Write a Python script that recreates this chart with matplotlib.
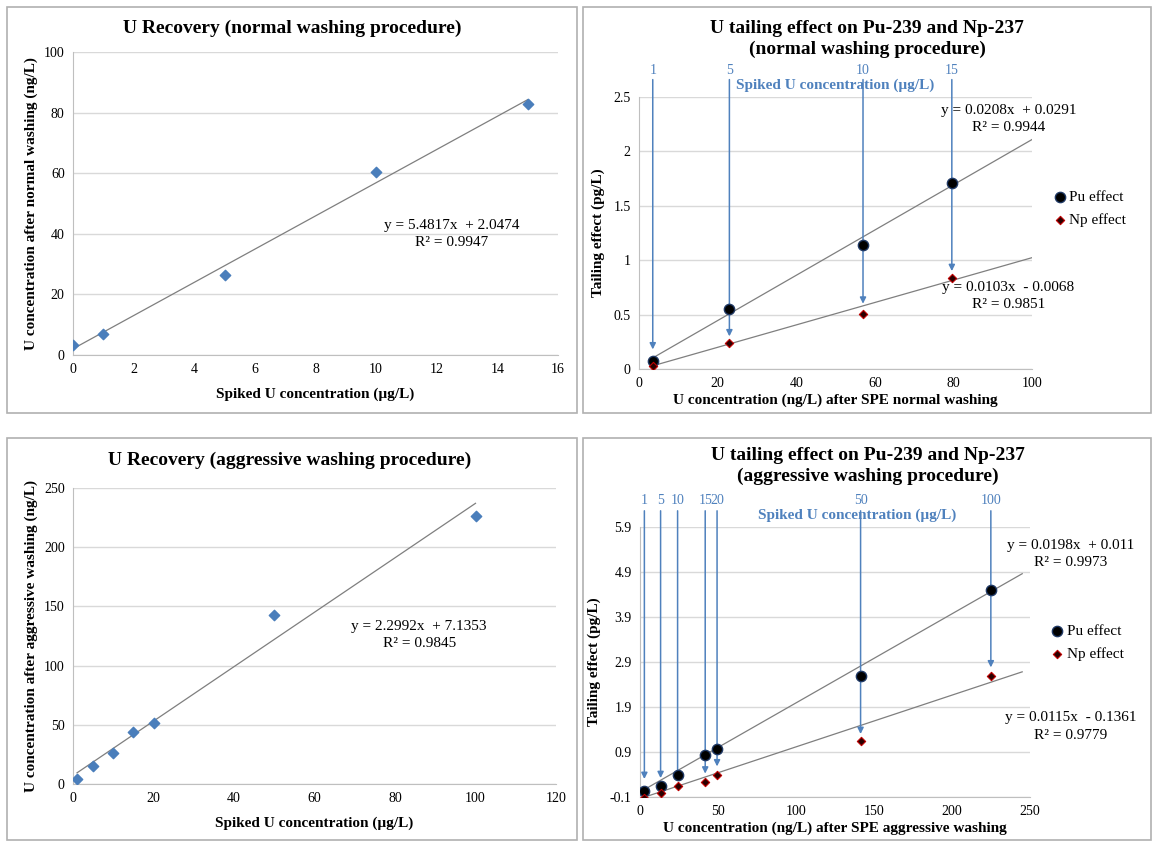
import numpy as np
import matplotlib
matplotlib.use('Agg')
import matplotlib.pyplot as plt
from matplotlib.patches import Rectangle

plt.rcParams['font.family'] = ['Liberation Serif', 'DejaVu Serif']

# U recovery, normal washing
spike_norm = [0, 1, 5, 10, 15]
rec_norm = [3.3, 7.0, 26.5, 60.5, 83.0]
fit_rec_norm = (5.4817, 2.0474)

# U recovery, aggressive washing
spike_aggr = [1, 5, 10, 15, 20, 50, 100]
rec_aggr = [4.5, 15.0, 26.5, 43.5, 51.5, 143.0, 226.5]
fit_rec_aggr = (2.2992, 7.1353)

# tailing effect, normal washing
u_norm = [3.5, 23.0, 57.0, 79.6]
pu_norm = [0.073, 0.553, 1.14, 1.71]
np_norm = [0.024, 0.24, 0.51, 0.84]
arrow_tip_norm = [0.18, 0.30, 0.60, 0.90]
spike_lbl_norm = ['1', '5', '10', '15']
fit_pu_norm = (0.0208, 0.0291)
fit_np_norm = (0.0103, -0.0068)

# tailing effect, aggressive washing
u_aggr = [2.8, 13.2, 24.1, 41.8, 49.4, 141.4, 224.9]
pu_aggr = [0.04, 0.15, 0.40, 0.83, 0.97, 2.60, 4.51]
np_aggr = [-0.12, -0.01, 0.14, 0.23, 0.38, 1.15, 2.59]
arrow_tip_aggr = [0.30, 0.32, 0.27, 0.42, 0.58, 1.30, 2.78]
spike_lbl_aggr = ['1', '5', '10', '15', '20', '50', '100']
fit_pu_aggr = (0.0198, 0.011)
fit_np_aggr = (0.0115, -0.1361)

W, H = 1153, 844
fig = plt.figure(figsize=(W / 100, H / 100), dpi=100)

blue = '#4a7ebb'
arrow_blue = '#4f81bd'
grid_c = '#d9d9d9'
line_c = '#7f7f7f'


def px_axes(x0, x1, ytop, ybot):
    return fig.add_axes([x0 / W, 1 - ybot / H, (x1 - x0) / W, (ybot - ytop) / H])


def style(ax):
    ax.grid(axis='y', color=grid_c, lw=1)
    ax.set_axisbelow(True)
    for s in ['top', 'right']:
        ax.spines[s].set_visible(False)
    for s in ['left', 'bottom']:
        ax.spines[s].set_color('#bfbfbf')
    ax.tick_params(length=0, labelsize=10, pad=6)


# panel frames
for (x0, y0, x1, y1) in [(7, 7, 577, 413), (583, 7, 1151, 413),
                         (7, 438, 577, 840), (583, 438, 1151, 840)]:
    fig.add_artist(Rectangle((x0 / W, 1 - y1 / H), (x1 - x0) / W, (y1 - y0) / H,
                             transform=fig.transFigure, fill=False,
                             edgecolor='#b0b0b0', lw=1.2))

# ---- panel 1
ax1 = px_axes(73, 558, 52, 355)
style(ax1)
ax1.set_xlim(0, 16)
ax1.set_ylim(0, 100)
ax1.set_xticks(range(0, 17, 2))
ax1.set_yticks(range(0, 101, 20))
xs = np.array([min(spike_norm), max(spike_norm)])
ax1.plot(xs, fit_rec_norm[0] * xs + fit_rec_norm[1], color=line_c, lw=0.9)
ax1.scatter(spike_norm, rec_norm, marker='D', s=28, color=blue, zorder=3)
ax1.text(12.5, 40, 'y = 5.4817x  + 2.0474\nR² = 0.9947', ha='center', va='center',
         fontsize=11, linespacing=1.45)
ax1.set_xlabel('Spiked U concentration (µg/L)', fontsize=11, fontweight='bold', labelpad=8)
ax1.set_ylabel('U concentration after normal washing (ng/L)', fontsize=11,
               fontweight='bold', labelpad=4)
fig.text(292 / W, 1 - 28 / H, 'U Recovery (normal washing procedure)', ha='center',
         va='center', fontsize=14, fontweight='bold')

# ---- panel 3
ax3 = px_axes(73, 556, 488, 784)
style(ax3)
ax3.set_xlim(0, 120)
ax3.set_ylim(0, 250)
ax3.set_xticks(range(0, 121, 20))
ax3.set_yticks(range(0, 251, 50))
xs = np.array([min(spike_aggr), max(spike_aggr)])
ax3.plot(xs, fit_rec_aggr[0] * xs + fit_rec_aggr[1], color=line_c, lw=0.9)
ax3.scatter(spike_aggr, rec_aggr, marker='D', s=28, color=blue, zorder=3)
ax3.text(86, 126, 'y = 2.2992x  + 7.1353\nR² = 0.9845', ha='center', va='center',
         fontsize=11, linespacing=1.45)
ax3.set_xlabel('Spiked U concentration (µg/L)', fontsize=11, fontweight='bold', labelpad=8)
ax3.set_ylabel('U concentration after aggressive washing (ng/L)', fontsize=11,
               fontweight='bold', labelpad=4)
fig.text(290 / W, 1 - 460 / H, 'U Recovery (aggressive washing procedure)', ha='center',
         va='center', fontsize=14, fontweight='bold')


def tailing(ax, u, pu, npv, tips, lbls, fit_pu, fit_np, xend,
            arrow_top, lbl_y, spk_x, spk_y, eq_x, eq_pu_y, eq_np_y, eq_pu, eq_np, leg_y):
    style(ax)
    xs = np.array([min(u), xend])
    ax.plot(xs, fit_pu[0] * xs + fit_pu[1], color=line_c, lw=0.9, zorder=2)
    ax.plot(xs, fit_np[0] * xs + fit_np[1], color=line_c, lw=0.9, zorder=2)
    ax.scatter(u, pu, marker='o', s=55, color='black', edgecolor='#1f3864', lw=1,
               zorder=4, label='Pu effect')
    ax.scatter(u, npv, marker='D', s=18, color='#2a0000', edgecolor='#c00000', lw=0.8,
               zorder=4, label='Np effect')
    for xv, tip, lb in zip(u, tips, lbls):
        ax.annotate('', xy=(xv, tip), xytext=(xv, arrow_top),
                    arrowprops=dict(arrowstyle='-|>', color=arrow_blue, lw=1.1,
                                    mutation_scale=9, shrinkA=0, shrinkB=0),
                    annotation_clip=False, zorder=3)
        ax.text(xv, lbl_y, lb, ha='center', va='center', color=arrow_blue,
                fontsize=10, clip_on=False)
    ax.text(spk_x, spk_y, 'Spiked U concentration (µg/L)', ha='center', va='center',
            color=arrow_blue, fontsize=11, fontweight='bold', clip_on=False)
    ax.text(eq_x, eq_pu_y, eq_pu, ha='center', va='center', fontsize=11,
            linespacing=1.45, clip_on=False)
    ax.text(eq_x, eq_np_y, eq_np, ha='center', va='center', fontsize=11,
            linespacing=1.45, clip_on=False)
    ax.legend(loc='center left', bbox_to_anchor=(1.035, leg_y), frameon=False,
              fontsize=11, handletextpad=0.1, handlelength=1.0, labelspacing=0.6,
              borderaxespad=0)
    ax.set_ylabel('Tailing effect (pg/L)', fontsize=11, fontweight='bold', labelpad=6)


# ---- panel 2
ax2 = px_axes(639, 1032, 97, 369)
ax2.set_xlim(0, 100)
ax2.set_ylim(0, 2.5)
ax2.set_xticks(range(0, 101, 20))
ax2.set_yticks([0, 0.5, 1, 1.5, 2, 2.5])
ax2.set_yticklabels(['0', '0.5', '1', '1.5', '2', '2.5'])
tailing(ax2, u_norm, pu_norm, np_norm, arrow_tip_norm, spike_lbl_norm,
        fit_pu_norm, fit_np_norm, 100, 2.66, 2.74, 50, 2.61,
        94, 2.3, 0.67, 'y = 0.0208x  + 0.0291\nR² = 0.9944',
        'y = 0.0103x  - 0.0068\nR² = 0.9851', 0.59)
ax2.set_xlabel('U concentration (ng/L) after SPE normal washing', fontsize=11,
               fontweight='bold', labelpad=2)
fig.text(867 / W, 1 - 39 / H, 'U tailing effect on Pu-239 and Np-237\n(normal washing procedure)',
         ha='center', va='center', fontsize=14, fontweight='bold', linespacing=1.35)

# ---- panel 4
ax4 = px_axes(640, 1030, 527, 797)
ax4.set_xlim(0, 250)
ax4.set_ylim(-0.1, 5.9)
ax4.set_xticks(range(0, 251, 50))
yt = [-0.1, 0.9, 1.9, 2.9, 3.9, 4.9, 5.9]
ax4.set_yticks(yt)
ax4.set_yticklabels(['%.1f' % v for v in yt])
tailing(ax4, u_aggr, pu_aggr, np_aggr, arrow_tip_aggr, spike_lbl_aggr,
        fit_pu_aggr, fit_np_aggr, 245, 6.26, 6.5, 139, 6.17,
        276, 5.3, 1.47, 'y = 0.0198x  + 0.011\nR² = 0.9973',
        'y = 0.0115x  - 0.1361\nR² = 0.9779', 0.57)
ax4.set_xlabel('U concentration (ng/L) after SPE aggressive washing', fontsize=11,
               fontweight='bold', labelpad=2)
fig.text(868 / W, 1 - 466 / H, 'U tailing effect on Pu-239 and Np-237\n(aggressive washing procedure)',
         ha='center', va='center', fontsize=14, fontweight='bold', linespacing=1.35)

fig.savefig('out.png', dpi=100)
